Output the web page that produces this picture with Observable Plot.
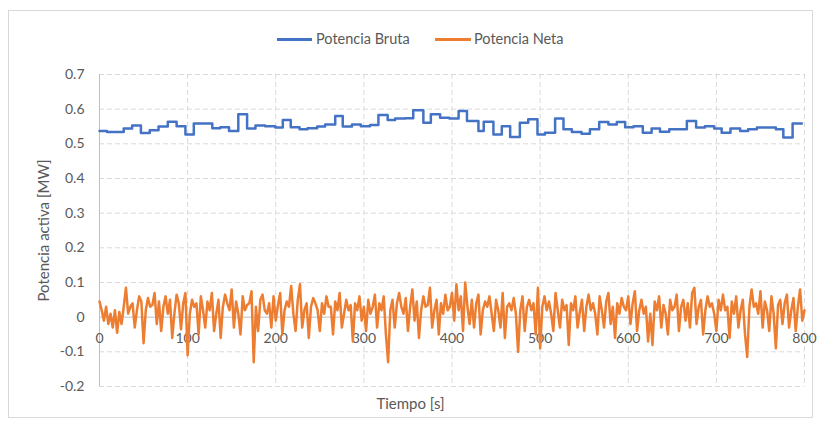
<!DOCTYPE html>
<html>
<head>
<meta charset="utf-8">
<script src="https://cdn.jsdelivr.net/npm/d3@7"></script>
<script src="https://cdn.jsdelivr.net/npm/@observablehq/plot@0.6"></script>
<style>
  html, body { margin: 0; padding: 0; background: #fff; }
  #wrap { position: relative; width: 821px; height: 425px; font-family: Lato, "Open Sans", sans-serif; color: #595959; }
  #frame { position: absolute; left: 8px; top: 10px; width: 805px; height: 408px; border: 1px solid #d9d9d9; box-sizing: border-box; }
  #legend { position: absolute; left: 0; top: 0; width: 821px; height: 60px; }
  .lg { position: absolute; top: 31px; font-size: 14.5px; line-height: 16px; white-space: nowrap; }
  .sw { position: absolute; top: 38px; height: 3px; }
  #chart { position: absolute; left: 0; top: 60px; }
  #xlab { position: absolute; left: 0; width: 821px; top: 394px; text-align: center; font-size: 15px; }
</style>
</head>
<body>
<div id="wrap">
  <div id="frame"></div>
  <div id="legend">
    <div class="sw" style="left:277px;width:35px;background:#4472C4"></div>
    <div class="lg" style="left:316px">Potencia Bruta</div>
    <div class="sw" style="left:435px;width:36px;background:#ED7D31"></div>
    <div class="lg" style="left:474px">Potencia Neta</div>
  </div>
  <div id="chart"></div>
  <div id="xlab">Tiempo [s]</div>
</div>
<script>
// Potencia Bruta: step changes (time [s], value [MW])
const brutaT = [0, 8.5, 27.5, 37, 47, 57, 67, 77.5, 87.5, 97.5, 107, 128, 137, 147, 157.5, 167.5, 177, 188,
  199.5, 208, 217, 227, 236, 247, 256, 267.5, 276, 286.5, 296.5, 307, 316.5, 327, 335.5, 347, 356, 367.5, 376, 386.5,
  397, 407.5, 417, 430, 436, 447, 456.5, 466, 477, 486.5, 497, 505.5, 517, 526.5, 536, 547, 556.5, 567, 577.5, 587,
  596.5, 606, 616.5, 626.5, 636, 646.5, 666.5, 677, 687, 697.5, 706, 716, 727, 736, 746, 767.5, 776, 786.5, 797];
const brutaV = [0.537, 0.534, 0.544, 0.553, 0.531, 0.539, 0.550, 0.564, 0.551, 0.527, 0.559, 0.545, 0.548, 0.537, 0.585, 0.544, 0.553, 0.551,
  0.547, 0.569, 0.548, 0.542, 0.545, 0.550, 0.556, 0.580, 0.550, 0.556, 0.551, 0.554, 0.583, 0.569, 0.573, 0.574, 0.597, 0.561, 0.585, 0.575,
  0.573, 0.595, 0.566, 0.537, 0.564, 0.527, 0.551, 0.520, 0.561, 0.571, 0.527, 0.532, 0.573, 0.542, 0.534, 0.529, 0.542, 0.563, 0.556, 0.563,
  0.548, 0.551, 0.532, 0.544, 0.535, 0.542, 0.566, 0.547, 0.551, 0.544, 0.532, 0.544, 0.537, 0.542, 0.547, 0.542, 0.518, 0.559, 0.559];

// Potencia Neta: samples every 2.5 s from t = 0
const netaStep = 2.5;
const netaV = [
  0.045, 0.02, -0.01, 0.03, -0.02, 0.01, -0.03, 0.02, -0.045, 0.015,
  -0.02, 0.03, 0.085, 0.01, 0.03, 0.04, -0.03, 0.02, 0.06, 0.045,
  -0.075, 0.02, 0.055, 0.03, 0.035, 0.07, -0.02, 0.045, -0.04, 0.03,
  0.06, 0.01, 0.05, -0.06, 0.01, 0.065, 0.04, -0.035, 0.04, 0.07,
  -0.11, 0.01, 0.05, 0.03, 0.04, -0.05, 0.06, 0.02, -0.03, 0.045,
  0.02, 0.07, -0.04, 0.01, 0.05, -0.06, 0.03, 0.065, 0.04, 0.02,
  0.08, -0.03, 0.045, 0.01, -0.05, 0.06, 0.02, 0.035, 0.04, 0.075,
  -0.13, 0.03, -0.04, 0.05, 0.065, 0.02, 0.01, 0.04, -0.03, 0.06,
  -0.01, 0.035, 0.07, -0.05, 0.02, 0.045, 0.03, 0.09, 0.01, -0.04,
  0.05, 0.095, -0.03, 0.02, 0.04, -0.06, 0.03, 0.055, 0.04, 0.02,
  -0.04, 0.04, 0.01, 0.06, 0.03, 0.03, -0.05, 0.045, 0.02, 0.07,
  -0.03, 0.01, 0.05, 0.02, 0.035, -0.07, 0.04, 0.02, 0.06, -0.01,
  0.03, -0.04, 0.05, 0.01, 0.03, 0.065, -0.03, 0.04, 0.02, 0.06,
  -0.05, -0.13, 0.02, 0.05, -0.03, 0.04, 0.07, 0.03, 0.01, 0.055,
  -0.04, 0.03, 0.08, -0.01, 0.045, -0.06, 0.02, 0.06, 0.03, 0.035,
  0.085, -0.03, 0.02, 0.05, -0.05, 0.04, 0.01, 0.065, 0.02, 0.03,
  0.07, -0.01, 0.095, 0.02, 0.06, -0.04, 0.1, 0.03, -0.02, 0.05,
  -0.03, 0.04, 0.065, -0.05, 0.02, 0.045, 0.03, 0.06, 0.01, -0.04,
  0.05, 0.02, -0.03, 0.07, -0.06, 0.03, 0.04, 0.02, 0.055, 0.01,
  -0.1, 0.02, 0.06, -0.04, 0.03, 0.05, 0.02, 0.04, -0.05, 0.085,
  -0.09, 0.03, 0.06, 0.02, 0.045, 0.01, -0.04, 0.07, 0.02, -0.03,
  0.05, 0.02, 0.035, -0.08, 0.04, 0.02, 0.06, -0.03, 0.015, 0.05,
  -0.04, 0.03, 0.065, 0.02, 0.04, 0.01, -0.05, 0.06, 0.02, -0.03,
  0.045, 0.07, -0.02, 0.03, -0.06, 0.04, 0.01, 0.055, 0.03, 0.02,
  0.06, -0.02, 0.04, 0.075, -0.04, 0.02, 0.05, 0.01, 0.03, -0.07,
  0.01, -0.08, 0.045, 0.02, 0.06, -0.03, 0.035, 0.01, -0.05, 0.05,
  0.02, 0.03, 0.065, -0.04, 0.03, 0.05, -0.01, 0.04, -0.03, 0.07,
  0.085, -0.02, 0.03, 0.05, -0.05, 0.02, 0.06, 0.03, 0.04, 0.01,
  -0.04, 0.05, 0.02, 0.065, 0.02, 0.03, -0.06, 0.045, 0.01, 0.06,
  -0.03, 0.02, 0.05, -0.05, -0.115, 0.03, 0.08, 0.03, 0.04, 0.01,
  0.075, -0.03, 0.045, 0.02, -0.04, 0.06, 0.01, -0.09, 0.035, 0.05,
  -0.02, 0.04, 0.065, -0.03, 0.02, 0.055, -0.04, 0.03, 0.08, -0.01,
  0.02
];

const xTicks = [0, 100, 200, 300, 400, 500, 600, 700, 800];
const yTicks = [-0.2, -0.1, 0, 0.1, 0.2, 0.3, 0.4, 0.5, 0.6, 0.7];
const yLabel = "Potencia activa [MW]";

const bruta = brutaT.map((t, i) => ({t, v: brutaV[i]}));
const neta = netaV.map((v, i) => ({t: i * netaStep, v}));

const plot = Plot.plot({
  width: 821,
  height: 335,
  marginTop: 14,
  marginBottom: 9,
  marginLeft: 99,
  marginRight: 17,
  style: {fontFamily: "Lato, 'Open Sans', sans-serif", fontSize: "14px", color: "#595959", background: "transparent"},
  x: {domain: [0, 800], axis: null},
  y: {domain: [-0.2, 0.7], axis: null},
  marks: [
    Plot.ruleY(yTicks.filter(d => d !== 0), {stroke: "#d9d9d9", strokeDasharray: "5,3", strokeWidth: 1}),
    Plot.ruleX(xTicks.filter(d => d !== 0), {stroke: "#d9d9d9", strokeDasharray: "5,3", strokeWidth: 1}),
    Plot.ruleY([0], {stroke: "#bfbfbf", strokeWidth: 1}),
    Plot.ruleX([0], {stroke: "#bfbfbf", strokeWidth: 1}),
    Plot.text(yTicks, {x: 0, y: d => d, text: d => String(d), textAnchor: "end", dx: -15, fill: "#595959", fontSize: 14}),
    Plot.text(xTicks, {x: d => d, y: 0, text: d => String(d), dy: 21, fill: "#595959", fontSize: 14}),
    Plot.text([yLabel], {frameAnchor: "left", text: d => d, rotate: -90, textAnchor: "middle", dx: -55, fill: "#595959", fontSize: 15}),
    Plot.line(bruta, {x: "t", y: "v", curve: "step-after", stroke: "#4472C4", strokeWidth: 2.5}),
    Plot.line(neta, {x: "t", y: "v", stroke: "#ED7D31", strokeWidth: 2.5, strokeLinejoin: "round"})
  ]
});
document.getElementById("chart").appendChild(plot);
</script>
</body>
</html>
